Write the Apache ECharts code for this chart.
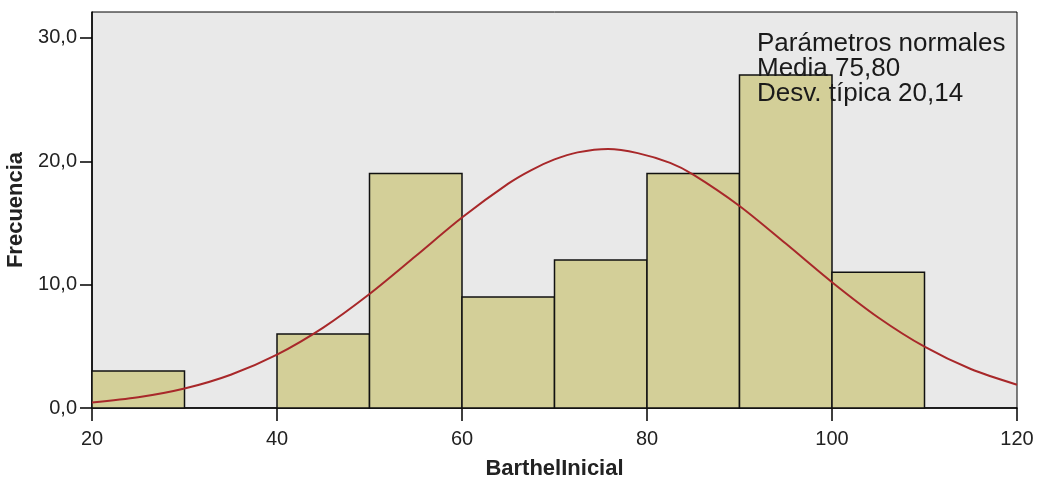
<!DOCTYPE html>
<html><head><meta charset="utf-8">
<script src="https://cdn.jsdelivr.net/npm/echarts@6/dist/echarts.min.js"></script>
<style>html,body{margin:0;padding:0;background:#fff}#c{width:1041px;height:480px}</style>
</head><body><div id="c"></div>
<script>
// Histogram bins (start, end) and frequencies
var binStarts = [20, 30, 40, 50, 60, 70, 80, 90, 100];
var binEnds   = [30, 40, 50, 60, 70, 80, 90, 100, 110];
var frequencies = [3, 0, 6, 19, 9, 12, 19, 27, 11];
// Normal curve
var curveX = [20, 25, 30, 35, 40, 45, 50, 55, 60, 65, 67.5, 70, 72.5, 75.8, 79, 82.5, 85, 90, 95, 100, 105, 110, 115, 120];
var curveY = [0.45, 0.87, 1.58, 2.70, 4.33, 6.52, 9.24, 12.32, 15.44, 18.19, 19.29, 20.15, 20.72, 21.0, 20.66, 19.87, 18.92, 16.38, 13.33, 10.20, 7.34, 4.97, 3.16, 1.89];
var yTicks = [0, 10, 20, 30];
var annotation = ['Parámetros normales', 'Media 75,80', 'Desv. típica 20,14'];

var histData = binStarts.map(function(s, i){ return [s, binEnds[i], frequencies[i]]; })
  .filter(function(d){ return d[2] > 0; });
var curveData = curveX.map(function(x, i){ return [x, curveY[i]]; });

var chart = echarts.init(document.getElementById('c'), null, {renderer:'canvas'});
var font = 'Liberation Sans, Arial, sans-serif';
chart.setOption({
  animation: false,
  textStyle: {fontFamily: font},
  grid: {left: 92, right: 24, top: 12, bottom: 72, show: true, outerBoundsMode: 'none', containLabel: false,
    backgroundColor: '#e9e9e9', borderColor: '#000', borderWidth: 1},
  xAxis: {
    type: 'value', min: 20, max: 120, interval: 20,
    name: 'BarthelInicial', nameLocation: 'middle', nameGap: 50,
    nameTextStyle: {fontFamily: font, fontWeight: 'bold', fontSize: 22, color: '#222'},
    axisLine: {lineStyle: {color: '#000', width: 1.5}},
    axisTick: {length: 13, lineStyle: {color: '#000', width: 1.5}},
    axisLabel: {fontFamily: font, fontSize: 20, color: '#222', margin: 21},
    splitLine: {show: false}
  },
  yAxis: {
    type: 'value', min: 0, max: 32.1, interval: 10,
    name: 'Frecuencia', nameLocation: 'middle', nameGap: 61,
    nameTextStyle: {fontFamily: font, fontWeight: 'bold', fontSize: 22, color: '#222'},
    axisLine: {show: true, lineStyle: {color: '#000', width: 1.5}},
    axisTick: {show: true, length: 12, lineStyle: {color: '#000', width: 1.5}},
    axisLabel: {fontFamily: font, fontSize: 20, color: '#222', margin: 15,
      showMaxLabel: false,
      formatter: function(v){ return yTicks.indexOf(v) >= 0 ? v.toFixed(1).replace('.', ',') : ''; }},
    splitLine: {show: false}
  },
  series: [
    {
      type: 'custom',
      data: histData,
      renderItem: function(params, api){
        var p0 = api.coord([api.value(0), 0]);
        var p1 = api.coord([api.value(1), api.value(2)]);
        return {type: 'rect', shape: {x: p0[0], y: p1[1], width: p1[0]-p0[0], height: p0[1]-p1[1]},
          style: {fill: '#d3cf98', stroke: '#111', lineWidth: 1.5}};
      },
      encode: {x: [0, 1], y: 2},
      z: 2
    },
    {
      type: 'line', data: curveData, smooth: 0.3, showSymbol: false,
      lineStyle: {color: '#a8282a', width: 2}, z: 3
    }
  ],
  graphic: [{
    type: 'text', left: 757, top: 31, z: 10,
    style: {text: annotation.join('\n'), font: '26px ' + font, fill: '#1a1a1a', lineHeight: 25}
  }]
});
</script></body></html>
